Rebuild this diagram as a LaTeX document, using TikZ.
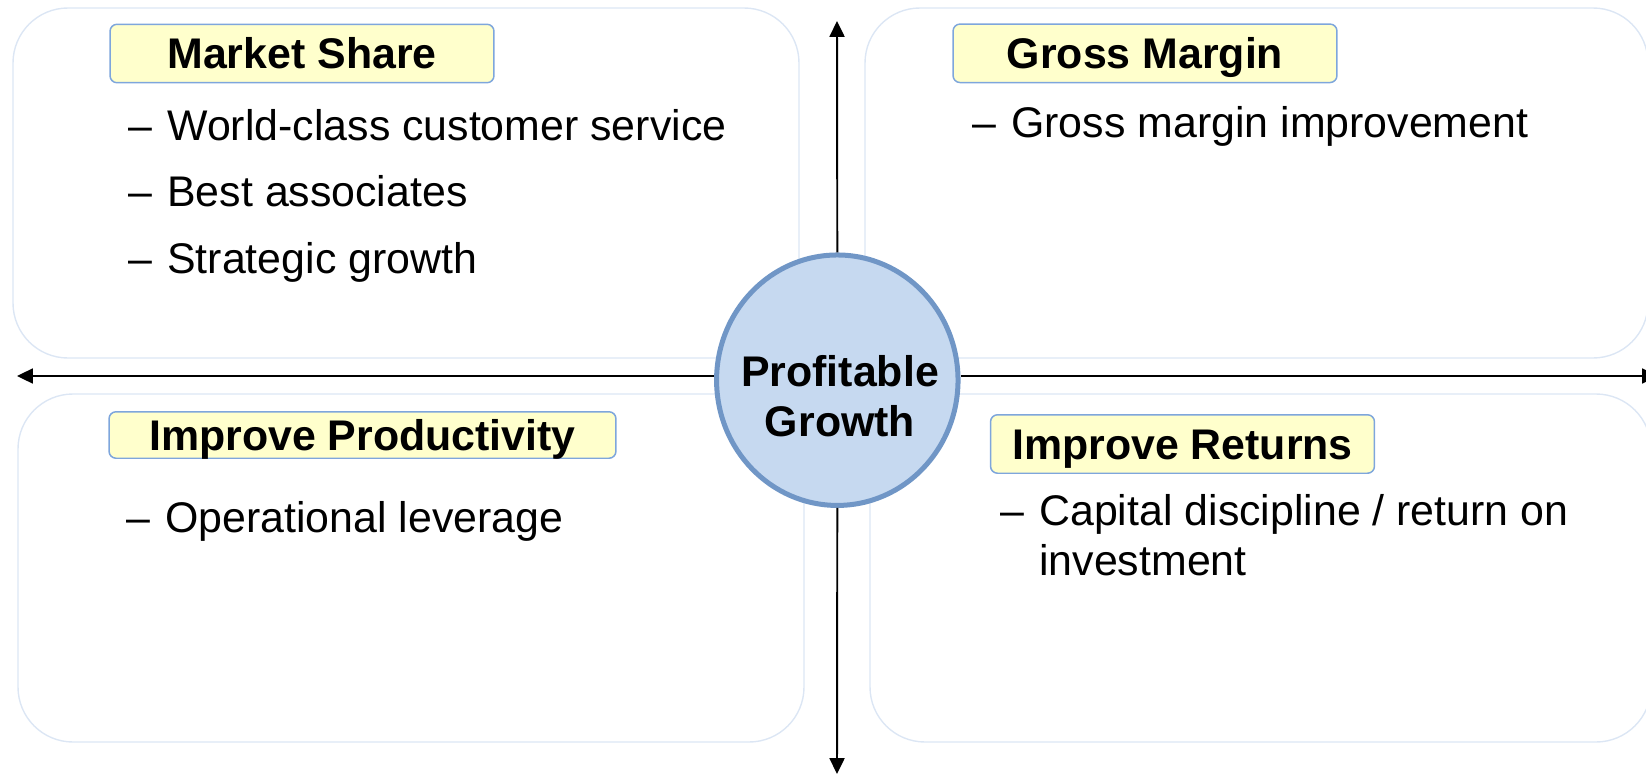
\documentclass[tikz,border=0pt]{standalone}
\usepackage{fontspec}
\setmainfont{Liberation Sans}
\usetikzlibrary{shapes.geometric,arrows.meta}

\definecolor{panelline}{HTML}{DCE6F4}
\definecolor{tagfill}{HTML}{FFFFCC}
\definecolor{tagline}{HTML}{7EA6DC}
\definecolor{hubfill}{HTML}{C6D9F0}
\definecolor{hubline}{HTML}{7096C6}

\newcommand{\bigtext}{\fontsize{24.4}{28.45}\selectfont}
\newcommand{\dashmark}{\makebox[0.91em][l]{–}}
\newcommand{\dashgap}{\hspace*{0.91em}}

\tikzset{
  panel/.style={draw=panelline, line width=0.8pt, rounded corners=1.1cm},
  tag/.style={draw=tagline, fill=tagfill, line width=0.85pt, rounded corners=0.14cm,
    minimum width=7.68cm, minimum height=1.17cm, inner sep=0pt,
    font=\bigtext\bfseries, text height=17.5pt, text depth=0pt},
  point/.style={anchor=base west, inner sep=0pt, font=\bigtext, align=left},
  axis/.style={line width=1.1pt, -{Triangle[length=9pt, width=8.5pt]}},
  hub/.style={ellipse, draw=hubline, fill=hubfill, line width=2.85pt,
    minimum width=4.83cm, minimum height=5.01cm, inner sep=0pt},
}

\begin{document}
\begin{tikzpicture}[x=0.02cm, y=-0.02cm]
    \useasboundingbox (0,0) rectangle (1646,774);

    % Quadrant panels
    \draw[panel] (13,8) rectangle (799,358);
    \draw[panel] (865,8) rectangle (1648,358);
    \draw[panel] (18,394) rectangle (804,742);
    \draw[panel] (870,394) rectangle (1651,742);

    % Axis ends
    \coordinate (west) at (17,376);
    \coordinate (east) at (1658,376);
    \coordinate (north) at (837,21);
    \coordinate (south) at (837,774);

    % Centre (base anchor sits on the last line)
    \node[hub] (hub) at (837.3,380.2) {};
    \node[anchor=base, inner sep=0pt, align=center, font=\bigtext\bfseries]
        (hubtext) at (840,436) {Profitable\\Growth};

    % Axes
    \draw[axis] (hub.west |- west) -- (west);
    \draw[axis] (hub.east |- east) -- (east);
    \draw[axis] (hub.north) -- (north);
    \draw[axis] (hub.south) -- (south);

    % Market share
    \node[tag] (share) at (302,53.5) {Market Share};
    \node[point] (share1) at (128,140) {\dashmark World-class customer service};
    \node[point] (share2) at (128,206.7) {\dashmark Best associates};
    \node[point] (share3) at (128,273) {\dashmark Strategic growth};

    % Gross margin
    \node[tag] (margin) at (1145,53.3) {Gross Margin};
    \node[point] (margin1) at (972,137) {\dashmark Gross margin improvement};

    % Productivity
    \node[tag, minimum width=10.14cm, minimum height=0.93cm] (prod) at (362.5,435) {Improve Productivity};
    \node[point] (prod1) at (126,532) {\dashmark Operational leverage};

    % Returns
    \node[tag] (returns) at (1182.5,444) {Improve Returns};
    \node[point] (returns1) at (1000,575) {\dashmark Capital discipline / return on\\\dashgap investment};
\end{tikzpicture}
\end{document}
